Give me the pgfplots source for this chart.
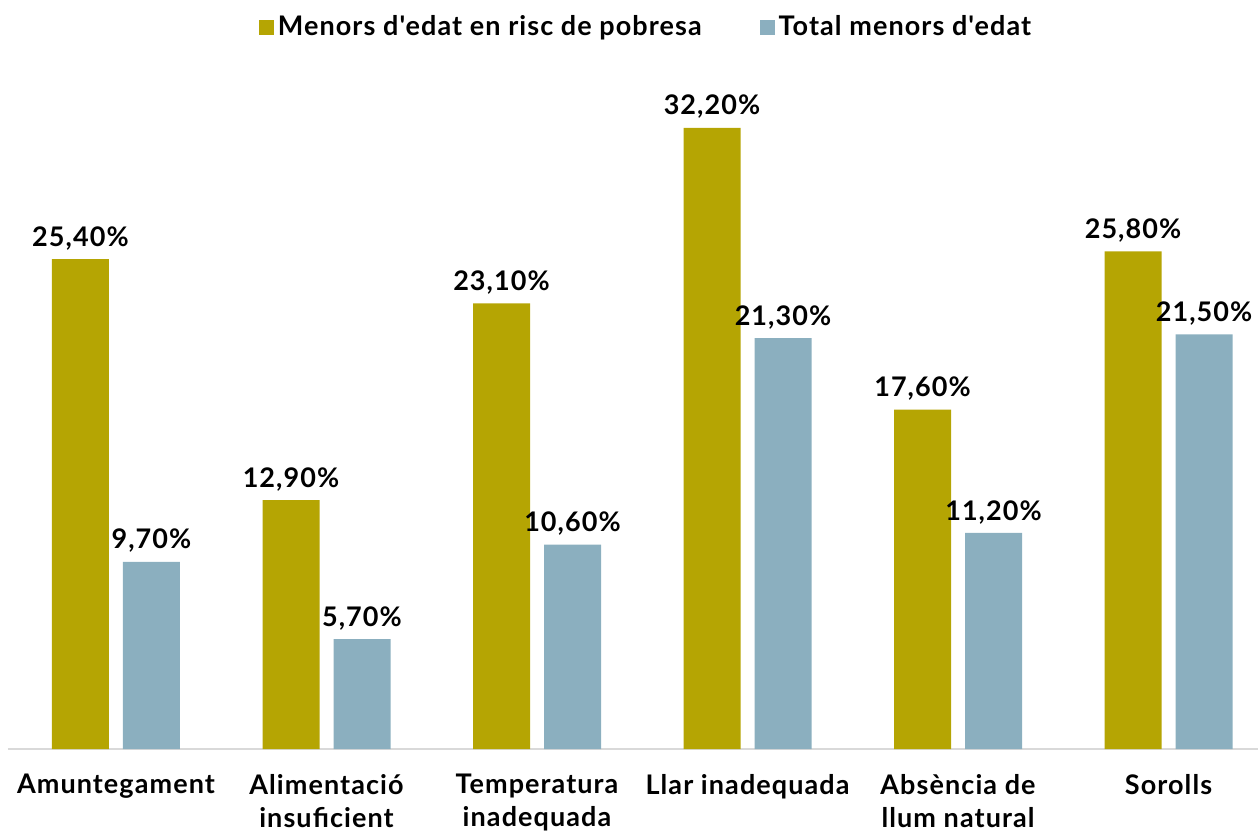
\documentclass[border=0pt]{standalone}
\usepackage{pgfplots}
\pgfplotsset{compat=1.18}
\usepackage{fontspec}
\setmainfont{Lato}[LetterSpace=4,Ligatures=TeXOff]
\definecolor{gold}{RGB}{181,165,3}
\definecolor{steel}{RGB}{139,175,191}
\begin{document}
\begin{tikzpicture}
\begin{axis}[
  scale only axis,
  width=625pt, height=347.2pt,
  ybar=7pt, bar width=28.5pt,
  xmin=-0.513, xmax=5.425,
  ymin=0, ymax=36,
  axis y line=none,
  axis x line*=bottom,
  x axis line style={draw=black!15, line width=0.8pt},
  xtick=data,
  xticklabels={Amuntegament,{Alimentació\\insuficient},{Temperatura\\inadequada},Llar inadequada,{Absència de\\llum natural},Sorolls},
  xticklabel style={align=center, font=\bfseries\fontsize{13.5}{16.5}\selectfont, yshift=-9pt},
  major tick length=0pt,
  /pgf/number format/assume math mode=true,
  nodes near coords={\pgfmathprintnumber[fixed,fixed zerofill,precision=2,use comma,assume math mode=true]{\pgfplotspointmeta}\%},
  nodes near coords style={font=\bfseries\fontsize{13.5}{15}\selectfont, black, yshift=1pt},
  legend style={at={(0.5,1)}, anchor=center, yshift=13.8pt, xshift=7pt, draw=none, fill=none, legend columns=2,
    font=\bfseries\fontsize{13.5}{15}\selectfont,
    /tikz/every even column/.append style={column sep=27pt}},
  legend image code/.code={\fill[#1] (0pt,-4pt) rectangle (7.5pt,3.5pt);},
]
\addplot[fill=gold, draw=none] coordinates {(0,25.4) (1,12.9) (2,23.1) (3,32.2) (4,17.6) (5,25.8)};
\addplot[fill=steel, draw=none] coordinates {(0,9.7) (1,5.7) (2,10.6) (3,21.3) (4,11.2) (5,21.5)};
\legend{Menors d'edat en risc de pobresa, Total menors d'edat}
\end{axis}
\pgfresetboundingbox
\path ([xshift=-4pt,yshift=-40.5pt]current axis.south west) rectangle ([yshift=27.3pt]current axis.north east);
\end{tikzpicture}
\end{document}
